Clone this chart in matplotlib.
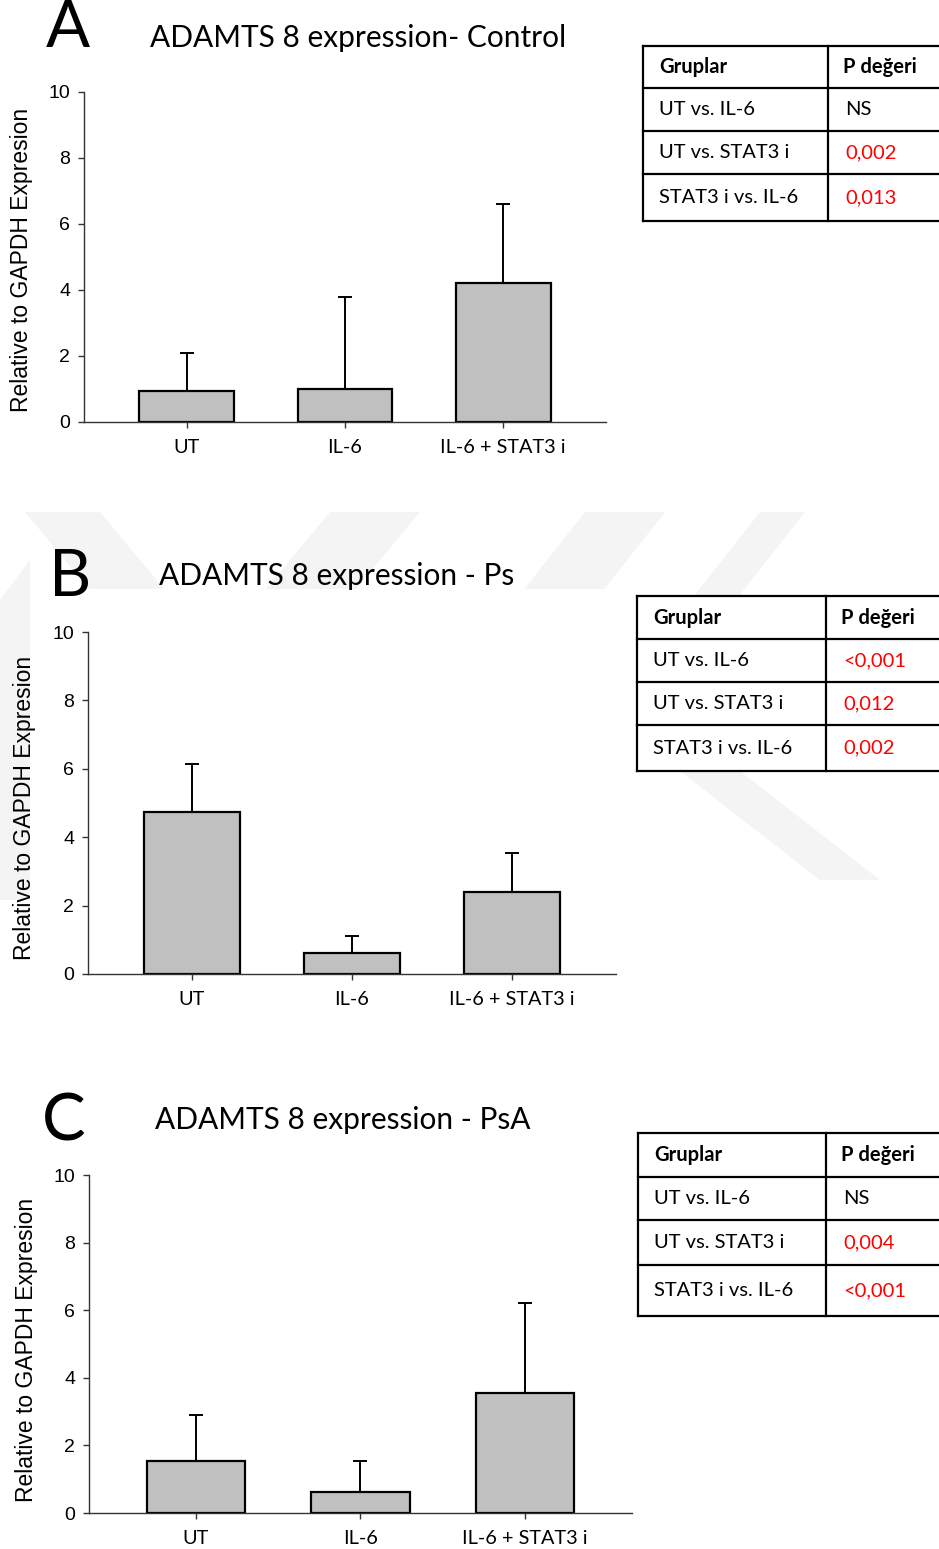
import matplotlib.pyplot as plt
from matplotlib.patches import Polygon, Rectangle

W, H = 939, 1549

groups = ["UT", "IL-6", "IL-6 + STAT3 i"]
titles = ["ADAMTS 8 expression- Control", "ADAMTS 8 expression - Ps",
          "ADAMTS 8 expression - PsA"]
letters = ["A", "B", "C"]

means_a = [0.95, 1.0, 4.2]
errs_a = [1.15, 2.8, 2.4]
means_b = [4.75, 0.6, 2.4]
errs_b = [1.4, 0.5, 1.15]
means_c = [1.55, 0.62, 3.55]
errs_c = [1.35, 0.93, 2.65]

comparisons = ["UT vs. IL-6", "UT vs. STAT3 i", "STAT3 i vs. IL-6"]
p_a = ["NS", "0,002", "0,013"]
p_b = ["<0,001", "0,012", "0,002"]
p_c = ["NS", "0,004", "<0,001"]

yticks = [0, 2, 4, 6, 8, 10]

# layout in pixels: (left, right, top, bottom) of each chart
chart_px = [(84, 606, 92, 422), (88, 616, 632, 974), (89, 632, 1175, 1513)]
letter_px = [(68, 28), (70, 577), (64, 1122)]
title_px = [(358, 38), (337, 576), (343, 1120)]
ylabel_px = [(22, 260), (25, 808), (27, 1350)]
# table: left, column split, row lines
table_px = [(643, 828, [46, 88, 131, 174, 221]),
            (637, 826, [596, 639, 682, 725, 771]),
            (638, 826, [1133, 1177, 1220, 1265, 1316])]

CAL = ["Lato", "DejaVu Sans"]
ARI = ["Liberation Sans", "DejaVu Sans"]

fig = plt.figure(figsize=(W / 100, H / 100), dpi=100)
bg = fig.add_axes([0, 0, 1, 1], zorder=0)
bg.set_xlim(0, W)
bg.set_ylim(H, 0)
bg.axis("off")

# faint watermark behind panel B
wm = "#f4f4f4"
for pts in [
    [(25, 512), (100, 512), (215, 650), (140, 650)],
    [(0, 600), (30, 560), (30, 900), (0, 900)],
    [(330, 512), (420, 512), (330, 620), (240, 620)],
    [(585, 512), (665, 512), (580, 620), (500, 620)],
    [(760, 512), (805, 512), (720, 620), (675, 620)],
    [(640, 740), (700, 740), (880, 880), (820, 880)],
]:
    bg.add_patch(Polygon(pts, closed=True, color=wm, lw=0))
bg.add_patch(Rectangle((33, 589), 632, 420, color="white", lw=0))

panels = [(means_a, errs_a, p_a), (means_b, errs_b, p_b), (means_c, errs_c, p_c)]

for i, (means, errs, pvals) in enumerate(panels):
    l, r, t, b = chart_px[i]
    ax = fig.add_axes([l / W, 1 - b / H, (r - l) / W, (b - t) / H], zorder=1)
    ax.patch.set_alpha(0)
    x = range(len(groups))
    ax.bar(x, means, width=0.6, color="#c0c0c0", edgecolor="black", lw=1.6, zorder=2)
    ax.errorbar(x, means, yerr=[[0] * len(errs), errs], fmt="none", ecolor="black",
                elinewidth=1.4, capsize=5, capthick=1.4, zorder=1)
    ax.set_xlim(-0.65, 2.65)
    ax.set_ylim(0, 10)
    ax.set_yticks(yticks)
    ax.set_xticks(list(x))
    ax.set_xticklabels(groups, fontsize=14.3, family=CAL)
    for lab in ax.get_yticklabels():
        lab.set_fontfamily(ARI)
        lab.set_fontsize(14)
    for s in ["top", "right"]:
        ax.spines[s].set_visible(False)
    for s in ["left", "bottom"]:
        ax.spines[s].set_color("#333333")
        ax.spines[s].set_linewidth(1.0)
    ax.tick_params(direction="out", length=4, width=1, color="#333333", pad=6)
    ax.tick_params(axis="x", pad=8)

    lx, ly = letter_px[i]
    bg.text(lx, ly, letters[i], fontsize=47, family=CAL, ha="center", va="center")
    tx, ty = title_px[i]
    bg.text(tx, ty, titles[i], fontsize=21.5, family=CAL, ha="center", va="center")
    yx, yy = ylabel_px[i]
    bg.text(yx, yy, "Relative to GAPDH Expresion", fontsize=16.5, family=ARI,
            rotation=90, ha="center", va="center")

    # p-value table
    x0, xs, rows = table_px[i]
    bg.add_patch(Rectangle((x0, rows[0]), W + 10 - x0, rows[-1] - rows[0],
                           facecolor="white", edgecolor="none", zorder=2))
    for yl in rows:
        bg.plot([x0, W + 5], [yl, yl], color="black", lw=1.6, zorder=3)
    bg.plot([x0, x0], [rows[0], rows[-1]], color="black", lw=1.6, zorder=3)
    bg.plot([xs, xs], [rows[0], rows[-1]], color="black", lw=1.6, zorder=3)
    yc = [(rows[k] + rows[k + 1]) / 2 for k in range(len(rows) - 1)]
    bg.text(x0 + 16, yc[0], "Gruplar", fontsize=14.5, family=CAL, weight="bold",
            ha="left", va="center", zorder=4)
    bg.text(xs + 15, yc[0], "P değeri", fontsize=14.5, family=CAL, weight="bold",
            ha="left", va="center", zorder=4)
    for k, (cmp_, pv) in enumerate(zip(comparisons, pvals)):
        bg.text(x0 + 16, yc[k + 1], cmp_, fontsize=14.5, family=CAL,
                ha="left", va="center", zorder=4)
        col = "black" if pv == "NS" else "#ff0000"
        bg.text(xs + 17, yc[k + 1], pv, fontsize=14.5, family=CAL, color=col,
                ha="left", va="center", zorder=4)

fig.savefig("out.png", dpi=100)
